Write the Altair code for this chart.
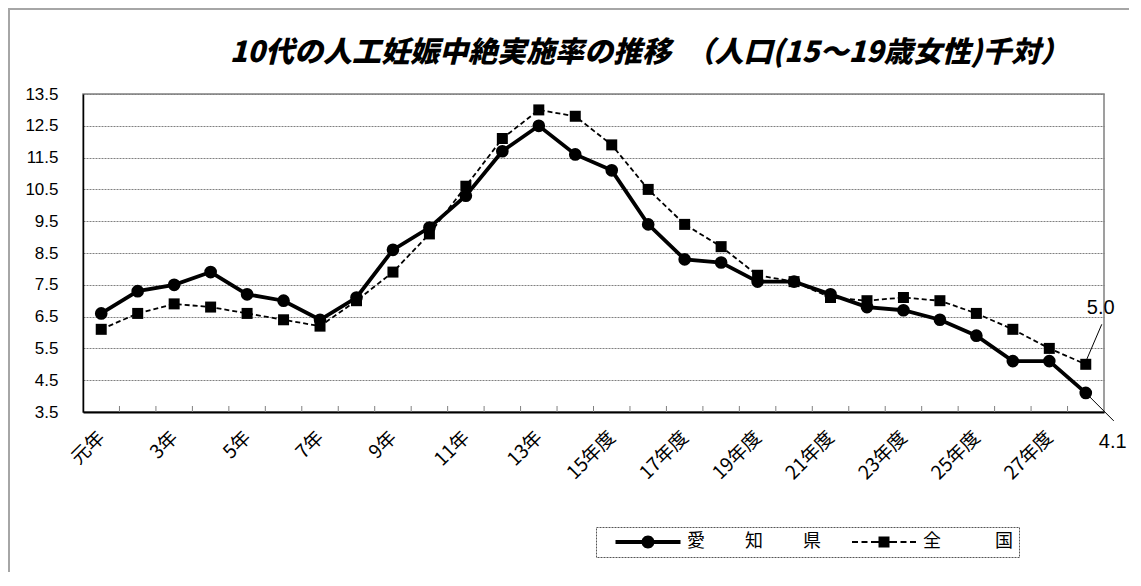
import altair as alt
import pandas as pd

# ---- data ----
years = ["元年", "2年", "3年", "4年", "5年", "6年", "7年", "8年", "9年", "10年",
         "11年", "12年", "13年", "14年度", "15年度", "16年度", "17年度", "18年度",
         "19年度", "20年度", "21年度", "22年度", "23年度", "24年度", "25年度",
         "26年度", "27年度", "28年度"]
aichi = [6.6, 7.3, 7.5, 7.9, 7.2, 7.0, 6.4, 7.1, 8.6, 9.3, 10.3, 11.7, 12.5, 11.6,
         11.1, 9.4, 8.3, 8.2, 7.6, 7.6, 7.2, 6.8, 6.7, 6.4, 5.9, 5.1, 5.1, 4.1]
national = [6.1, 6.6, 6.9, 6.8, 6.6, 6.4, 6.2, 7.0, 7.9, 9.1, 10.6, 12.1, 13.0, 12.8,
            11.9, 10.5, 9.4, 8.7, 7.8, 7.6, 7.1, 7.0, 7.1, 7.0, 6.6, 6.1, 5.5, 5.0]
series = ["愛　　 知　　 県", "全　　　国"]
y_ticks = [3.5, 4.5, 5.5, 6.5, 7.5, 8.5, 9.5, 10.5, 11.5, 12.5, 13.5]
label_years = years[::2]
title_text = "10代の人工妊娠中絶実施率の推移　（人口(15～19歳女性)千対）"

rows = []
for i, yr in enumerate(years):
    rows.append({"idx": i, "year": yr, "series": series[0], "value": aichi[i]})
    rows.append({"idx": i, "year": yr, "series": series[1], "value": national[i]})
df = pd.DataFrame(rows)
last = years[-1]

W, H = 1021, 318
JP = "Noto Sans CJK JP"
NUM = "Liberation Sans"

xs = alt.Scale(type="point", domain=years, padding=0.5)
ys = alt.Scale(domain=[3.5, 13.5], nice=False, zero=False)

X = alt.X("year:N", scale=xs, title=None,
          axis=alt.Axis(values=label_years, labelAngle=-45, labelAlign="right",
                        labelBaseline="middle", labelPadding=22, labelFont=JP,
                        labelFontSize=19, labelColor="black", labelOverlap=False,
                        ticks=False, grid=False, domainColor="black", domainWidth=2))
Y = alt.Y("value:Q", scale=ys, title=None,
          axis=alt.Axis(values=y_ticks, format=".1f", labelFont=NUM, labelFontSize=17,
                        labelColor="black", labelPadding=25, ticks=False, grid=True,
                        gridDash=[2, 1], gridColor="#808080", gridWidth=1,
                        domainColor="black", domainWidth=1.5))
O = alt.Order("idx:Q")

base = alt.Chart(df)
fa = base.transform_filter(alt.datum.series == series[0])
fn = base.transform_filter(alt.datum.series == series[1])

line_a = fa.mark_line(color="black", strokeWidth=3.8).encode(x=X, y=Y, order=O)
line_n = fn.mark_line(color="black", strokeWidth=1.8, strokeDash=[5, 3]).encode(x=X, y=Y, order=O)
pts_a = fa.mark_point(shape="circle", filled=True, size=160, color="black",
                      opacity=1).encode(x=X, y=Y)
pts_n = fn.mark_point(shape="square", filled=True, size=121, color="black",
                      opacity=1).encode(x=X, y=Y)

# inward tick marks between categories
ticks = alt.Chart(pd.DataFrame({"year": years[1:]})).mark_rule(
    color="#808080", strokeWidth=1, xOffset=-W / 56).encode(
    x=X, y=alt.value(H - 6), y2=alt.value(H))

# end-value annotations with leader lines
la = fa.transform_filter(alt.datum.year == last)
ln = fn.transform_filter(alt.datum.year == last)
txt_n = ln.mark_text(dx=15, dy=-56, font=NUM, fontSize=20, color="black").encode(
    x=X, y=Y, text=alt.Text("value:Q", format=".1f"))
txt_a = la.mark_text(dx=27, dy=49, font=NUM, fontSize=20, color="black").encode(
    x=X, y=Y, text=alt.Text("value:Q", format=".1f"))
lead_n = ln.mark_rule(color="black", strokeWidth=1, xOffset=16, yOffset=-40,
                      x2Offset=1, y2Offset=-5).encode(
    x=X, y=Y, x2=alt.X2("year"), y2=alt.Y2("value"))
lead_a = la.mark_rule(color="black", strokeWidth=1, xOffset=0, yOffset=0,
                      x2Offset=28, y2Offset=28).encode(
    x=X, y=Y, x2=alt.X2("year"), y2=alt.Y2("value"))

# legend symbols (line + marker) as custom paths; unit = 5 px (symbolSize 100)
U = 5.0


def rect(x1, x2, h):
    x1, x2, h = x1 / U, x2 / U, h / U
    return f"M{x1:.3f},{-h:.3f} L{x2:.3f},{-h:.3f} L{x2:.3f},{h:.3f} L{x1:.3f},{h:.3f} Z "


def circ(r):
    r = r / U
    return f"M{r:.3f},0 A{r:.3f},{r:.3f} 0 1,1 {-r:.3f},0 A{r:.3f},{r:.3f} 0 1,1 {r:.3f},0 Z "


path_a = rect(-32.5, 32.5, 1.9) + circ(6.5)
path_b = "".join(rect(a, b, 1.0) for a, b in
                 [(-32, -26), (-22.5, -16.5), (-13, -5.5),
                  (5.5, 13), (16.5, 22.5), (26, 32)]) + rect(-5.5, 5.5, 5.5)

legend_layer = base.transform_filter("false").mark_point(
    filled=True, color="black", opacity=1, strokeWidth=0).encode(
    shape=alt.Shape("series:N",
                    scale=alt.Scale(domain=series, range=[path_a, path_b]),
                    legend=alt.Legend(orient="none", legendX=513, legendY=433,
                                      direction="horizontal", title=None,
                                      symbolSize=100, symbolFillColor="black",
                                      symbolStrokeColor="black", symbolStrokeWidth=0,
                                      symbolOpacity=1, symbolOffset=37,
                                      labelOffset=30, columnPadding=16,
                                      labelExpr="datum.index == 1 ? datum.label + '   ' : datum.label",
                                      labelFont=JP, labelFontSize=18, labelColor="black",
                                      padding=6, strokeColor="#555555")))

# title as text
title = alt.Chart(pd.DataFrame({"t": [title_text]})).mark_text(
    font=JP, fontSize=29, fontWeight=900, fontStyle="italic", color="black",
    align="center", baseline="middle").encode(
    text="t:N", x=alt.value(W / 2 + 56), y=alt.value(-41))

# outer chart frame (top and left edges)
one = pd.DataFrame({"a": [0]})
frame_top = alt.Chart(one).mark_rule(color="#a6a6a6", strokeWidth=2).encode(
    x=alt.value(-75), x2=alt.value(W + 25), y=alt.value(-85))
frame_left = alt.Chart(one).mark_rule(color="#a6a6a6", strokeWidth=2).encode(
    x=alt.value(-74), y=alt.value(-86), y2=alt.value(H + 160))

chart = alt.layer(
    frame_top, frame_left, title, ticks, line_n, line_a, pts_n, pts_a,
    lead_n, lead_a, txt_n, txt_a, legend_layer
).properties(
    width=W, height=H,
    autosize=alt.AutoSizeParams(type="none"),
    padding={"left": 75, "top": 86, "right": 25, "bottom": 160},
).configure_view(stroke="#808080", strokeWidth=1.5
).configure_legend(strokeDash=[2, 1], strokeWidth=1)

chart.save("out.html", embed_options={"renderer": "svg", "actions": False})
